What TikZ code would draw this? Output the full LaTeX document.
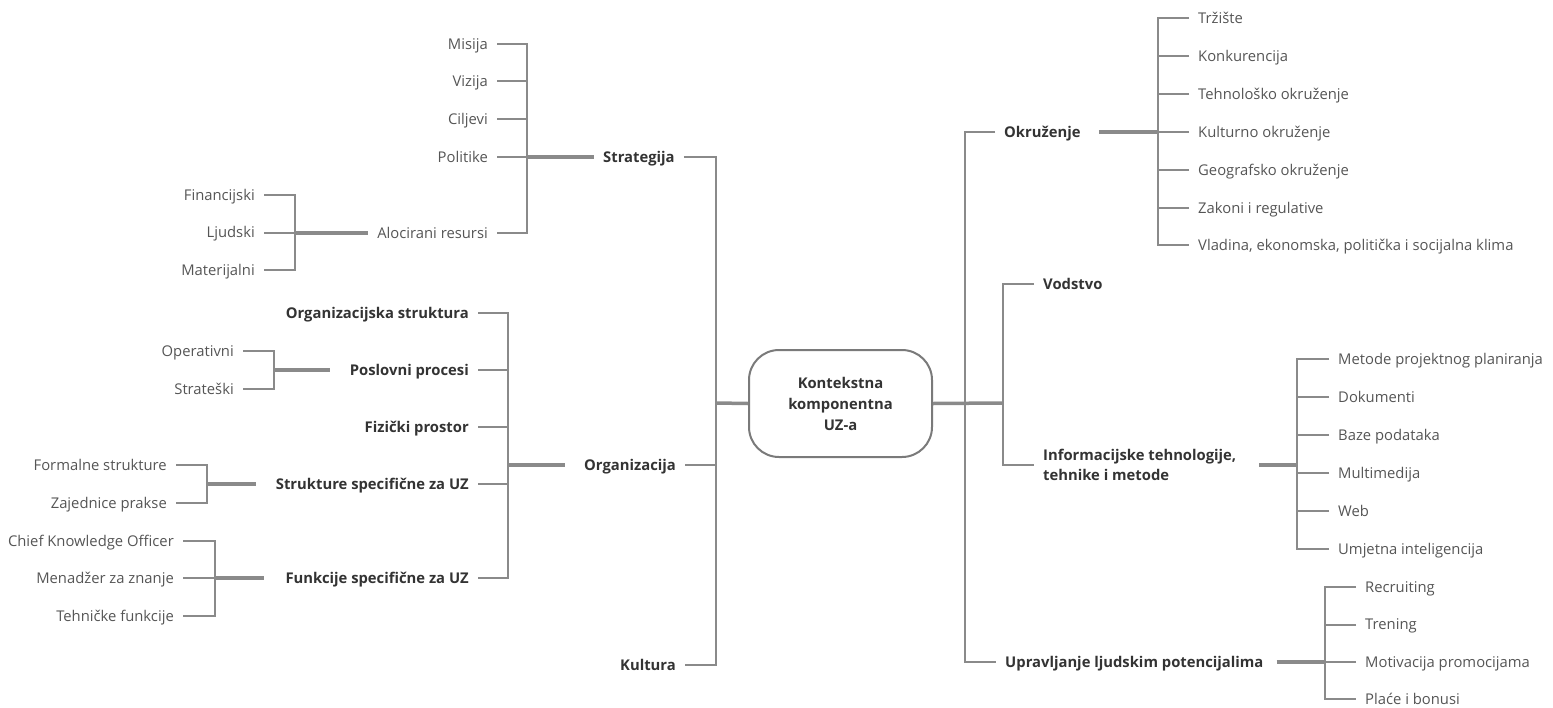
\documentclass[tikz,border=0pt]{standalone}
\usepackage{fontspec}
\setmainfont{Open Sans}
\definecolor{leafc}{HTML}{555555}
\definecolor{hubc}{HTML}{333333}
\definecolor{linec}{HTML}{8A8A8A}
\definecolor{boxc}{HTML}{7A7A7A}
\tikzset{
  leaf/.style={font=\fontsize{14.8}{17}\selectfont, text=leafc, inner xsep=9pt, inner ysep=2pt,
               text height=12.6pt, text depth=2pt},
  hubbase/.style={font=\bfseries\fontsize{14.8}{17}\selectfont, text=hubc, inner xsep=9pt, inner ysep=2pt},
  hub/.style={hubbase, text height=12.6pt, text depth=2pt},
  lnk/.style={draw=linec, line width=2pt},
  lnkb/.style={draw=linec, line width=3.5pt},
}
\begin{document}
\begin{tikzpicture}[x=1pt,y=-1pt]
\useasboundingbox (0,0) rectangle (1553,707);

% ---------- root ----------
\node[draw=boxc, line width=2pt, rounded corners=30pt, minimum width=183pt, minimum height=107pt,
      align=center, font=\bfseries\fontsize{14.8}{21}\selectfont, text=hubc] (root) at (840.5,403.5)
      {Kontekstna\\komponentna\\UZ-a};

% ---------- left: main branches ----------
\node[hub, anchor=west] (str) at (594,157) {Strategija};
\node[hub, anchor=west] (org) at (575,465) {Organizacija};
\node[hub, anchor=east] (kul) at (685,665) {Kultura};
\coordinate (sl) at (716,403);
\draw[lnk] (str.east) -| (sl) |- (kul.east);
\draw[lnk] (org.east) -- (org.east -| sl);
\draw[lnkb] (sl) -- (root.west);

% Strategija group
\node[leaf, anchor=east] (mis) at (497,44) {Misija};
\node[leaf, anchor=east] (viz) at (497,81) {Vizija};
\node[leaf, anchor=east] (cil) at (497,119) {Ciljevi};
\node[leaf, anchor=east] (pol) at (497,157) {Politike};
\node[leaf, anchor=east] (alo) at (497,233) {Alocirani resursi};
\coordinate (bs) at (527,157);
\draw[lnk] (mis.east) -| (bs) |- (alo.east);
\draw[lnk] (viz.east) -- (viz.east -| bs);
\draw[lnk] (cil.east) -- (cil.east -| bs);
\draw[lnk] (pol.east) -- (pol.east -| bs);
\draw[lnkb] (bs) -- (str.west);

% Alocirani resursi group
\node[leaf, anchor=east] (fin) at (264,195) {Financijski};
\node[leaf, anchor=east] (lju) at (264,232.5) {Ljudski};
\node[leaf, anchor=east] (mat) at (264,270) {Materijalni};
\coordinate (ba) at (295,233);
\draw[lnk] (fin.east) -| (ba) |- (mat.east);
\draw[lnk] (lju.east) -- (lju.east -| ba);
\draw[lnkb] (ba) -- (alo.west);

% Organizacija group
\node[hub, anchor=east] (ors) at (478,313) {Organizacijska struktura};
\node[hub, anchor=east] (pos) at (478,370) {Poslovni procesi};
\node[hub, anchor=east] (fiz) at (478,427) {Fizički prostor};
\node[hub, anchor=east] (stu) at (478,484) {Strukture specifične za UZ};
\node[hub, anchor=east] (fun) at (478,578) {Funkcije specifične za UZ};
\coordinate (bo) at (508,465);
\draw[lnk] (ors.east) -| (bo) |- (fun.east);
\draw[lnk] (pos.east) -- (pos.east -| bo);
\draw[lnk] (fiz.east) -- (fiz.east -| bo);
\draw[lnk] (stu.east) -- (stu.east -| bo);
\draw[lnkb] (bo) -- ([xshift=-10pt]org.west);

% Poslovni procesi group
\node[leaf, anchor=east] (ope) at (243,351) {Operativni};
\node[leaf, anchor=east] (stt) at (243,389) {Strateški};
\coordinate (bp) at (274,370);
\draw[lnk] (ope.east) -| (bp) |- (stt.east);
\draw[lnkb] (bp) -- ([xshift=-11pt]pos.west);

% Strukture group
\node[leaf, anchor=east] (for) at (176,465) {Formalne strukture};
\node[leaf, anchor=east] (zaj) at (176,503) {Zajednice prakse};
\coordinate (bz) at (207,484);
\draw[lnk] (for.east) -| (bz) |- (zaj.east);
\draw[lnkb] (bz) -- ([xshift=-11pt]stu.west);

% Funkcije group
\node[leaf, anchor=east] (cko) at (183,541) {Chief Knowledge Officer};
\node[leaf, anchor=east] (men) at (183,578) {Menadžer za znanje};
\node[leaf, anchor=east] (teh) at (183,616) {Tehničke funkcije};
\coordinate (bf) at (215,578);
\draw[lnk] (cko.east) -| (bf) |- (teh.east);
\draw[lnk] (men.east) -- (men.east -| bf);
\draw[lnkb] (bf) -- ([xshift=-12pt]fun.west);

% ---------- right: main branches ----------
\coordinate (sr1) at (965,403);
\coordinate (sr2) at (1003,403);
\draw[lnkb] (root.east) -- (sr2);
\node[hub, anchor=west] (okr) at (995,132) {Okruženje};
\node[hub, anchor=west] (upr) at (996,662) {Upravljanje ljudskim potencijalima};
\node[hub, anchor=west] (vod) at (1034,284) {Vodstvo};
\node[hubbase, anchor=west, align=left, font=\bfseries\fontsize{14.8}{20}\selectfont] (inf) at (1034,465)
     {Informacijske tehnologije,\\tehnike i metode};
\draw[lnk] (okr.west) -| (sr1) |- (upr.west);
\draw[lnk] (vod.west) -| (sr2) |- (inf.west);

% Okruzenje group
\node[leaf, anchor=west] (trz) at (1189,18) {Tržište};
\node[leaf, anchor=west] (kon) at (1189,56) {Konkurencija};
\node[leaf, anchor=west] (tok) at (1189,94) {Tehnološko okruženje};
\node[leaf, anchor=west] (kok) at (1189,132) {Kulturno okruženje};
\node[leaf, anchor=west] (gok) at (1189,170) {Geografsko okruženje};
\node[leaf, anchor=west] (zak) at (1189,208) {Zakoni i regulative};
\node[leaf, anchor=west] (vla) at (1189,245) {Vladina, ekonomska, politička i socijalna klima};
\coordinate (bk) at (1158,132);
\draw[lnk] (trz.west) -| (bk) |- (vla.west);
\draw[lnk] (kon.west) -- (kon.west -| bk);
\draw[lnk] (tok.west) -- (tok.west -| bk);
\draw[lnk] (kok.west) -- (kok.west -| bk);
\draw[lnk] (gok.west) -- (gok.west -| bk);
\draw[lnk] (zak.west) -- (zak.west -| bk);
\draw[lnkb] ([xshift=9pt]okr.east) -- (bk);

% Informacijske group
\node[leaf, anchor=west] (mpp) at (1329,359) {Metode projektnog planiranja};
\node[leaf, anchor=west] (dok) at (1329,397) {Dokumenti};
\node[leaf, anchor=west] (baz) at (1329,435) {Baze podataka};
\node[leaf, anchor=west] (mul) at (1329,473) {Multimedija};
\node[leaf, anchor=west] (web) at (1329,511) {Web};
\node[leaf, anchor=west] (umj) at (1329,549) {Umjetna inteligencija};
\coordinate (bi) at (1297,465);
\draw[lnk] (mpp.west) -| (bi) |- (umj.west);
\draw[lnk] (dok.west) -- (dok.west -| bi);
\draw[lnk] (baz.west) -- (baz.west -| bi);
\draw[lnk] (mul.west) -- (mul.west -| bi);
\draw[lnk] (web.west) -- (web.west -| bi);
\draw[lnkb] ([xshift=14pt]inf.east) -- (bi);

% Upravljanje group
\node[leaf, anchor=west] (rec) at (1356,587) {Recruiting};
\node[leaf, anchor=west] (tre) at (1356,624.5) {Trening};
\node[leaf, anchor=west] (mot) at (1356,662) {Motivacija promocijama};
\node[leaf, anchor=west] (pla) at (1356,699) {Plaće i bonusi};
\coordinate (bu) at (1325,662);
\draw[lnk] (rec.west) -| (bu) |- (pla.west);
\draw[lnk] (tre.west) -- (tre.west -| bu);
\draw[lnk] (mot.west) -- (mot.west -| bu);
\draw[lnkb] ([xshift=4pt]upr.east) -- (bu);
\end{tikzpicture}
\end{document}
